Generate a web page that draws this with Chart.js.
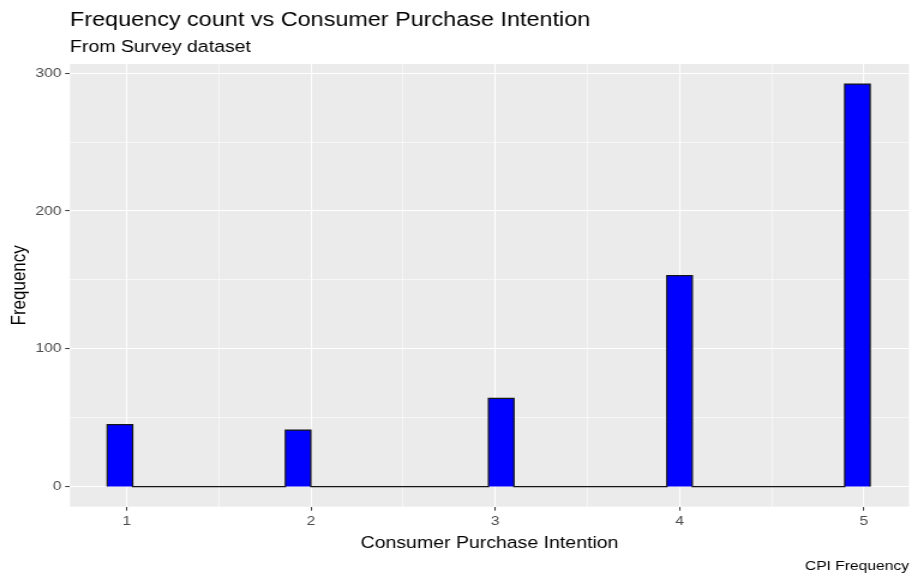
<!DOCTYPE html>
<html>
<head>
<meta charset="utf-8">
<script src="https://cdn.jsdelivr.net/npm/chart.js@4.4.1/dist/chart.umd.min.js"></script>
<style>
  html, body { margin: 0; padding: 0; background: #fff; }
  canvas { display: block; }
</style>
</head>
<body>
<!-- drawn at 760 wide and stretched to 912, like the wide text of the original -->
<canvas id="myChart" width="760" height="576" style="width:912px;height:576px"></canvas>
<script>
var categories = [1, 2, 3, 4, 5];
var counts = [45, 41, 64, 153, 292];
var binCenters = [0.963, 1.93, 3.032, 4.0, 4.965];
var binWidth = 0.138;
var yMajorTicks = [0, 100, 200, 300];
var yMinorTicks = [50, 150, 250];
var xMinorTicks = [1.5, 2.5, 3.5, 4.5];

var FONT = "'Liberation Sans', Arial, sans-serif";

// histogram outline, zero-height stretches between bins stay on the baseline
var outline = [];
for (var i = 0; i < counts.length; i++) {
    var l = binCenters[i] - binWidth / 2, r = binCenters[i] + binWidth / 2;
    outline.push({x: l, y: 0}, {x: l, y: counts[i]}, {x: r, y: counts[i]}, {x: r, y: 0});
}

var isMajor = function(list, ctx) {
    return ctx.tick && list.indexOf(ctx.tick.value) >= 0;
};
var sortedTicks = function(a, b) {
    return a.concat(b).sort(function(p, q) { return p - q; }).map(function(v) { return {value: v}; });
};

var ggText = {
    id: 'ggText',
    beforeDraw: function(chart) {
        var a = chart.chartArea, c = chart.ctx;
        c.save();
        c.fillStyle = '#EBEBEB';
        c.fillRect(a.left, a.top, a.right - a.left, a.bottom - a.top);
        c.restore();
    },
    afterDraw: function(chart) {
        var a = chart.chartArea, c = chart.ctx;
        c.save();
        c.fillStyle = '#000000';
        c.textBaseline = 'alphabetic';
        c.textAlign = 'left';
        c.font = '19.5px ' + FONT;
        c.fillText('Frequency count vs Consumer Purchase Intention', a.left, 26);
        c.font = '16.25px ' + FONT;
        c.fillText('From Survey dataset', a.left, 51.5);
        c.textAlign = 'center';
        c.fillText('Consumer Purchase Intention', (a.left + a.right) / 2, 548);
        c.textAlign = 'right';
        c.font = '13px ' + FONT;
        c.fillText('CPI Frequency', a.right, 570);
        c.translate(20.8, (a.top + a.bottom) / 2);
        c.rotate(-Math.PI / 2);
        c.textAlign = 'center';
        c.font = '17px ' + FONT;
        c.fillText('Frequency', 0, 0);
        c.restore();
    }
};

var config = {
    type: 'line',
    data: {
        datasets: [{
            label: 'CPI Frequency',
            data: outline,
            backgroundColor: '#0000FF',
            borderColor: '#151515',
            borderWidth: 1.2,
            fill: 'origin',
            pointRadius: 0,
            tension: 0
        }]
    },
    options: {
        responsive: false,
        animation: false,
        events: [],
        layout: { padding: { left: 0, right: 2.5, top: 64, bottom: 0 } },
        plugins: {
            legend: { display: false },
            tooltip: { enabled: false }
        },
        scales: {
            x: {
                type: 'linear',
                min: 0.692,
                max: 5.245,
                afterBuildTicks: function(s) { s.ticks = sortedTicks(categories, xMinorTicks); },
                afterFit: function(s) { s.height = 69.3; },
                border: { display: false },
                grid: {
                    color: '#FFFFFF',
                    lineWidth: function(ctx) { return isMajor(categories, ctx) ? 1.1 : 0.55; },
                    drawTicks: true,
                    tickLength: 4,
                    tickWidth: 1,
                    tickColor: function(ctx) { return isMajor(categories, ctx) ? '#333333' : 'rgba(0,0,0,0)'; }
                },
                ticks: {
                    autoSkip: false,
                    maxRotation: 0,
                    padding: 2.5,
                    color: '#4D4D4D',
                    font: { family: FONT, size: 13, lineHeight: 1.2 },
                    callback: function(v) { return categories.indexOf(v) >= 0 ? String(v) : ''; }
                }
            },
            y: {
                type: 'linear',
                min: -14.6,
                max: 306.6,
                afterBuildTicks: function(s) { s.ticks = sortedTicks(yMajorTicks, yMinorTicks); },
                afterFit: function(s) { s.width = 58.3; },
                border: { display: false },
                grid: {
                    color: '#FFFFFF',
                    lineWidth: function(ctx) { return isMajor(yMajorTicks, ctx) ? 1.1 : 0.55; },
                    drawTicks: true,
                    tickLength: 4,
                    tickWidth: 1,
                    tickColor: function(ctx) { return isMajor(yMajorTicks, ctx) ? '#333333' : 'rgba(0,0,0,0)'; }
                },
                ticks: {
                    autoSkip: false,
                    padding: 3,
                    color: '#4D4D4D',
                    font: { family: FONT, size: 13, lineHeight: 1.2 },
                    callback: function(v) { return yMajorTicks.indexOf(v) >= 0 ? String(v) : ''; }
                }
            }
        }
    },
    plugins: [ggText]
};

var ctx = document.getElementById("myChart").getContext("2d");
window.myHist = new Chart(ctx, config);
</script>
</body>
</html>
